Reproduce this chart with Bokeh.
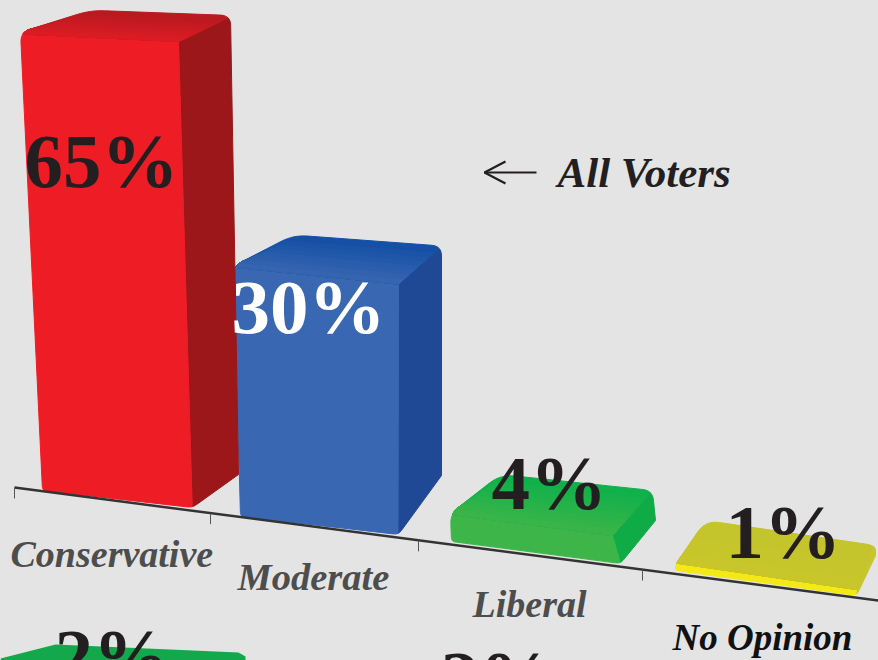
from bokeh.plotting import figure
from bokeh.embed import file_html
from bokeh.resources import INLINE
from bokeh.models import Range1d
from bokeh.core.properties import value as V

# ---- data
categories = ["Conservative", "Moderate", "Liberal", "No Opinion"]
all_voters = [65, 30, 4, 1]
value_labels = ["65%", "30%", "4%", "1%"]
lower_labels = ["2%", "2%"]
series_name = "All Voters"

# ---- drawing geometry (perspective of the sloped chart)
W, H = 878, 660
axis_start, axis_end = (14, 487), (878, 600)
tick_x = [14, 210, 418, 642]
bar_left = [42, 240, 451, 675]
bar_bottom = [490, 516, 541, 570]
bar_right = [192, 398, 620, 856]
bar_bottom_r = [507, 534, 563, 595]
px_per_pct = [7.05, 8.35, 7.0, 6.0]
right_ratio = [1.017, 1.0, 1.0, 1.0]
lean = [-22, -7, -1, 0]
lean_r = [-14, 0, -8, 0]
depth_l = [(70, -22), (60, -31), (50, -39), (30, -44)]
depth_r = [(52, -26), (43, -38), (40, -45), (19, -44)]
side_foot = [(46, -33), (43, -59), (35, -43), (19, -40)]
front_col = ["#ee1c25", "#3a67b2", "#3eb549", "#f4e914"]
side_col = ["#9c171a", "#1f4895", "#0fab47", "#c8c62a"]
top_col = ["#b81a1f", "#1550a5", "#10b04a", "#c4c42c"]
top_end_col = ["#e01c24", "#3a67b2", "#3eb549", "#c8c62a"]
text_col = ["#231f20", "#ffffff", "#231f20", "#231f20"]
num_x = [24, 231, 491, 725]
num_y = [187, 333, 509, 558]
lab_x = [10, 237, 472, 672]
lab_y = [567, 590, 617, 650]
lab_size = [38, 38.5, 38, 37]
lab_col = ["#4d4d4d", "#4d4d4d", "#4d4d4d", "#111111"]
NUM_SIZE = 77
SERIF = "Liberation Serif"
BASE_SHIFT = 0.35  # the page's text sits this share of its size below the given y
CORNER = 10
BANDS = 8

p = figure(width=W, height=H, x_range=Range1d(0, W), y_range=Range1d(H, 0),
           output_backend="svg", toolbar_location=None, min_border=0,
           background_fill_color="#e4e4e4", border_fill_color="#e4e4e4",
           outline_line_color=None)
p.axis.visible = False
p.grid.visible = False


def corner(prev, c, nxt, r):
    """Points of a rounded corner at c, going from the prev side to the nxt side."""
    la = ((prev[0] - c[0]) ** 2 + (prev[1] - c[1]) ** 2) ** 0.5
    lb = ((nxt[0] - c[0]) ** 2 + (nxt[1] - c[1]) ** 2) ** 0.5
    ra, rb = min(r, la / 2), min(r, lb / 2)
    s = (c[0] + (prev[0] - c[0]) * ra / la, c[1] + (prev[1] - c[1]) * ra / la)
    e = (c[0] + (nxt[0] - c[0]) * rb / lb, c[1] + (nxt[1] - c[1]) * rb / lb)
    pts = []
    for j in range(9):
        t = j / 8
        pts.append(((1 - t) ** 2 * s[0] + 2 * t * (1 - t) * c[0] + t ** 2 * e[0],
                    (1 - t) ** 2 * s[1] + 2 * t * (1 - t) * c[1] + t ** 2 * e[1]))
    return pts


def face(pts, col):
    p.patch([a for a, _ in pts], [b for _, b in pts], fill_color=col, line_color=col,
            line_width=1, line_join="round")


def mix(c1, c2, t):
    a = [int(c1[j:j + 2], 16) for j in (1, 3, 5)]
    b = [int(c2[j:j + 2], 16) for j in (1, 3, 5)]
    return "#%02x%02x%02x" % tuple(round(u + (v - u) * t) for u, v in zip(a, b))


def lerp(u, v, t):
    return (u[0] + (v[0] - u[0]) * t, u[1] + (v[1] - u[1]) * t)


def label(x, y, s, size, col, style):
    p.text([x], [y - BASE_SHIFT * size], text=[s], text_font=V(SERIF), text_font_style=style,
           text_font_size=f"{size}px", text_color=col, text_baseline="alphabetic")


# blue is painted before red, since red's side overlaps it
for i in [3, 2, 1, 0]:
    h = all_voters[i] * px_per_pct[i]
    bl = (bar_left[i], bar_bottom[i])
    br = (bar_right[i], bar_bottom_r[i])
    tl = (bl[0] + lean[i], bl[1] - h)
    tr = (br[0] + lean_r[i], br[1] - h * right_ratio[i])
    back_l = (tl[0] + depth_l[i][0], tl[1] + depth_l[i][1])
    back_r = (tr[0] + depth_r[i][0], tr[1] + depth_r[i][1])
    foot = (br[0] + side_foot[i][0], br[1] + side_foot[i][1])

    # silhouette corners, each shared by the two faces that meet there
    c_tl = corner(bl, tl, back_l, CORNER)
    c_br = corner(back_l, back_r, foot, CORNER)
    c_bl = corner(tl, back_l, back_r, CORNER + 4)
    c_foot = corner(br, bl, tl, 4)
    m_tl, m_br = c_tl[4], c_br[4]

    face([tr] + c_br[4:] + [foot] + corner(foot, br, bl, 5)[:5], side_col[i])
    face(c_foot + c_tl[:5] + [tr] + corner(foot, br, bl, 5)[4:], front_col[i])
    face(c_tl[4:] + c_bl + c_br[:5] + [tr], top_col[i])
    for b in range(1, BANDS):
        t = b / BANDS
        l0, r0 = lerp(c_bl[4], m_tl, t), lerp(m_br, tr, t)
        inner_l = [(q[0] + (m_tl[0] - c_bl[4][0]) * t, q[1] + (m_tl[1] - c_bl[4][1]) * t) for q in c_tl[4:]]
        face([m_tl] + c_tl[5:] + [l0, r0, tr], mix(top_col[i], top_end_col[i], t))

# lower chart, cut off by the edge of the picture
p.patch([0, 55, 238, 245, 245, 0], [658, 644, 652, 656, 662, 662],
        fill_color="#13a84c", line_color=None)

# sloped axis
slope = (axis_end[1] - axis_start[1]) / (axis_end[0] - axis_start[0])
p.line([axis_start[0], axis_end[0]], [axis_start[1], axis_end[1]], line_color="#333333", line_width=2.5)
ty = [axis_start[1] + (x - axis_start[0]) * slope for x in tick_x]
p.segment(tick_x, ty, tick_x, [y + 11 for y in ty], line_color="#555555", line_width=1)

for i in range(4):
    label(num_x[i], num_y[i], value_labels[i], NUM_SIZE, text_col[i], "bold")
    label(lab_x[i], lab_y[i], categories[i], lab_size[i], lab_col[i], "bold italic")

label(54, 682, lower_labels[0], NUM_SIZE, "#231f20", "bold")
label(440, 704, lower_labels[1], NUM_SIZE, "#231f20", "bold")
label(557, 187, series_name, 43, "#231f20", "bold italic")
p.multi_line([[536, 484], [505, 484, 505]], [[172, 172], [161, 172, 183]], line_color="#231f20", line_width=2.2)

html = file_html(p, INLINE)
html = html.replace("<head>", "<head><style>html,body{background:#e4e4e4;overflow:hidden}</style>", 1)
open("out.html", "w").write(html)
